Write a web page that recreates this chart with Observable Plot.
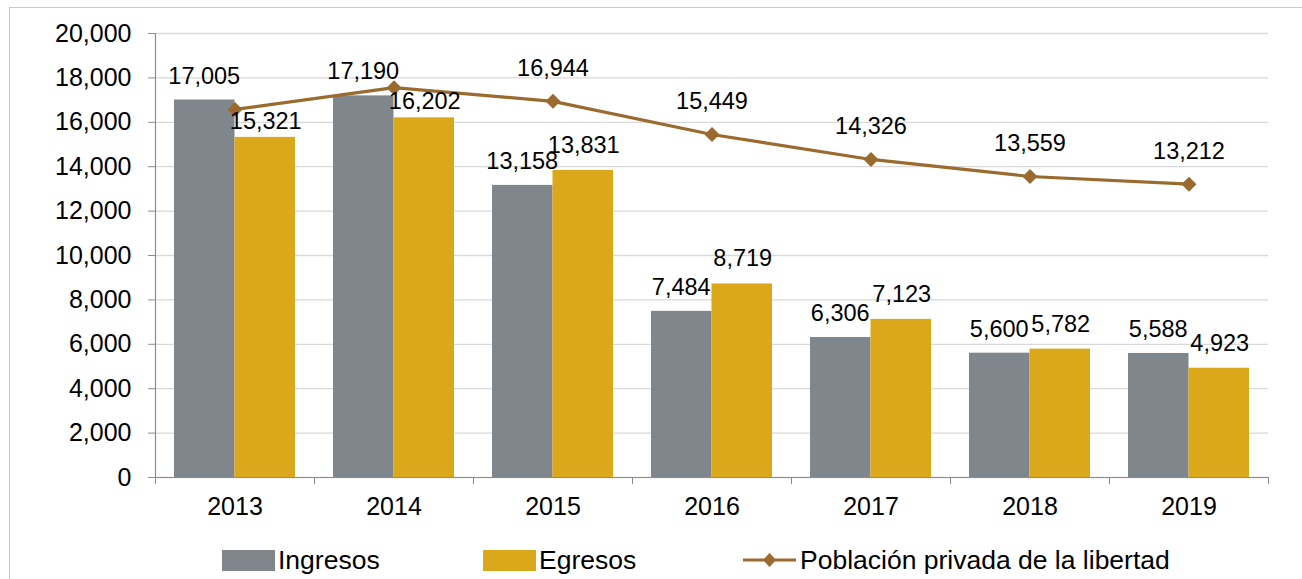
<!DOCTYPE html>
<html>
<head>
<meta charset="utf-8">
<script src="https://cdn.jsdelivr.net/npm/d3@7"></script>
<script src="https://cdn.jsdelivr.net/npm/@observablehq/plot@0.6"></script>
<style>
  html, body { margin: 0; padding: 0; background: #fff; }
  #wrap { position: relative; width: 1302px; height: 579px; overflow: hidden; font-family: "Liberation Sans", Arial, sans-serif; }
  #frame { position: absolute; left: 9px; top: 7px; width: 1400px; height: 700px; border: 1px solid #c8c8c8; box-sizing: border-box; }
  #chart { position: absolute; left: 0; top: 0; }
  #legend { position: absolute; top: 545px; left: 0; width: 1302px; height: 30px; font-size: 26.5px; color: #000; }
  .item { position: absolute; top: 0; height: 30px; display: flex; align-items: center; }
  .sw { width: 53px; height: 21px; margin-right: 3px; }
</style>
</head>
<body>
<div id="wrap">
  <div id="frame"></div>
  <div id="chart"></div>
  <div id="legend"></div>
</div>
<script>
const years = ["2013", "2014", "2015", "2016", "2017", "2018", "2019"];
const ingresos = [17005, 17190, 13158, 7484, 6306, 5600, 5588];
const egresos = [15321, 16202, 13831, 8719, 7123, 5782, 4923];
const poblacion = [16580, 17560, 16944, 15449, 14326, 13559, 13212];
const poblacionLabeled = [false, false, true, true, true, true, true];
const yTicks = [0, 2000, 4000, 6000, 8000, 10000, 12000, 14000, 16000, 18000, 20000];

const colIngresos = "#7f878d";
const colEgresos = "#dba81c";
const colLinea = "#9a6a2e";

const rowsIng = years.map((y, i) => ({year: y, value: ingresos[i]}));
const rowsEgr = years.map((y, i) => ({year: y, value: egresos[i], lineVal: poblacion[i]}));
const rowsPob = years.map((y, i) => ({year: y, value: poblacion[i], labeled: poblacionLabeled[i]}));

const fmt = d3.format(",");
const W = 1302, H = 530;
const mL = 155, mR = 34, mT = 33, mB = 53;
const bw = (W - mL - mR) / years.length;
const barOuter = 19;
const half = bw / 2;
const barW = half - barOuter;
const font = "Liberation Sans, Arial, sans-serif";

// egresos label sits lower when the line passes just above it
const closeToLine = d => d.lineVal - d.value < 2500;

const chart = Plot.plot({
  width: W, height: H,
  marginLeft: mL, marginRight: mR, marginTop: mT, marginBottom: mB,
  style: {fontFamily: font, background: "transparent", color: "#000"},
  x: {type: "band", domain: years, padding: 0, axis: null, label: null},
  y: {domain: [0, 20000], axis: null, label: null},
  marks: [
    Plot.gridY(yTicks, {stroke: "#d9d9d9", strokeOpacity: 1, strokeWidth: 1.3}),
    Plot.barY(rowsIng, {x: "year", y: "value", fill: colIngresos, insetLeft: barOuter, insetRight: half}),
    Plot.barY(rowsEgr, {x: "year", y: "value", fill: colEgresos, insetLeft: half, insetRight: barOuter}),
    Plot.frame({anchor: "left", stroke: "#8c8c8c", strokeWidth: 1.2}),
    Plot.frame({anchor: "bottom", stroke: "#8c8c8c", strokeWidth: 1.2}),
    Plot.axisY({ticks: yTicks, tickFormat: fmt, tickSize: 7, tickPadding: 17, fontSize: 25, stroke: "#8c8c8c", fill: "#000", label: null}),
    Plot.axisX({tickSize: 7, tickFormat: () => "", dx: -half, stroke: "#8c8c8c", label: null}),
    Plot.axisX({ticks: [years[years.length - 1]], tickSize: 7, tickFormat: () => "", dx: half, stroke: "#8c8c8c", label: null}),
    Plot.axisX({tickSize: 0, tickPadding: 20, fontSize: 25, fill: "#000", label: null}),
    Plot.line(rowsPob, {x: "year", y: "value", stroke: colLinea, strokeWidth: 3.2}),
    Plot.dot(rowsPob, {x: "year", y: "value", symbol: "diamond2", r: 5.8, fill: colLinea, stroke: colLinea}),
    Plot.text(rowsIng, {x: "year", y: "value", text: d => fmt(d.value), dx: -barW / 2 - 0.5, dy: -24, fontSize: 23.5, fill: "#000"}),
    Plot.text(rowsEgr.filter(d => !closeToLine(d)), {x: "year", y: "value", text: d => fmt(d.value), dx: barW / 2 + 0.5, dy: -25, fontSize: 23.5, fill: "#000"}),
    Plot.text(rowsEgr.filter(closeToLine), {x: "year", y: "value", text: d => fmt(d.value), dx: barW / 2 + 0.5, dy: -16, fontSize: 23.5, fill: "#000"}),
    Plot.text(rowsPob.filter(d => d.labeled), {x: "year", y: "value", text: d => fmt(d.value), dy: -33, fontSize: 23.5, fill: "#000"})
  ]
});
document.getElementById("chart").appendChild(chart);

// legend
const legend = document.getElementById("legend");
const items = [
  {label: "Ingresos", left: 222, type: "bar", color: colIngresos},
  {label: "Egresos", left: 483, type: "bar", color: colEgresos},
  {label: "Población privada de la libertad", left: 742, type: "line", color: colLinea}
];
for (const it of items) {
  const div = document.createElement("div");
  div.className = "item";
  div.style.left = it.left + "px";
  if (it.type === "bar") {
    const sw = document.createElement("div");
    sw.className = "sw";
    sw.style.background = it.color;
    div.appendChild(sw);
  } else {
    const ns = "http://www.w3.org/2000/svg";
    const svg = document.createElementNS(ns, "svg");
    svg.setAttribute("width", 56); svg.setAttribute("height", 22);
    svg.style.marginRight = "2px";
    const l = document.createElementNS(ns, "line");
    l.setAttribute("x1", 1); l.setAttribute("x2", 54); l.setAttribute("y1", 11); l.setAttribute("y2", 11);
    l.setAttribute("stroke", it.color); l.setAttribute("stroke-width", 3.2);
    svg.appendChild(l);
    const p = document.createElementNS(ns, "path");
    p.setAttribute("d", "M27.5,4 L34,11 L27.5,18 L21,11 Z");
    p.setAttribute("fill", it.color);
    svg.appendChild(p);
    div.appendChild(svg);
  }
  const t = document.createElement("span");
  t.textContent = it.label;
  div.appendChild(t);
  legend.appendChild(div);
}
</script>
</body>
</html>
